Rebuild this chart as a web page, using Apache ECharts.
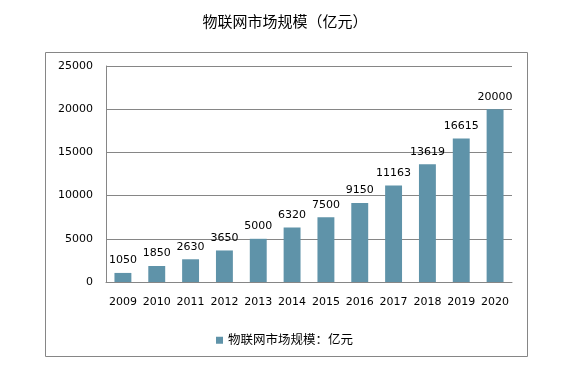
<!DOCTYPE html>
<html><head><meta charset="utf-8">
<script src="https://cdn.jsdelivr.net/npm/echarts@6/dist/echarts.min.js"></script>
<style>html,body{margin:0;padding:0;background:#fff}#c{width:569px;height:373px}</style>
</head><body><div id="c"></div>
<script>
const titleText = '物联网市场规模（亿元）';
const seriesName = '物联网市场规模：亿元';
const years = ['2009','2010','2011','2012','2013','2014','2015','2016','2017','2018','2019','2020'];
const values = [1050,1850,2630,3650,5000,6320,7500,9150,11163,13619,16615,20000];
const yMin = 0, yMax = 25000, yStep = 5000;

const font = '"DejaVu Sans", "Noto Sans CJK SC", sans-serif';
const chart = echarts.init(document.getElementById('c'), null, {renderer:'canvas'});
chart.setOption({
  animation:false,
  backgroundColor:'#fff',
  title:{text:titleText,left:280,textAlign:'center',top:11,textStyle:{fontFamily:font,fontSize:15,fontWeight:'normal',color:'#000'}},
  graphic:[{type:'rect',shape:{x:45.5,y:52.5,width:482,height:304},style:{fill:'none',stroke:'#868686',lineWidth:1},silent:true}],
  legend:{data:[seriesName],left:'center',top:329,itemWidth:7,itemHeight:7,icon:'rect',itemGap:5,
    textStyle:{fontFamily:font,fontSize:12.5,color:'#000'}},
  grid:{left:106,right:57,top:66,bottom:91,containLabel:false},
  xAxis:{type:'category',data:years,axisLine:{lineStyle:{color:'#868686'}},axisTick:{show:false},
    axisLabel:{interval:0,fontFamily:font,fontSize:11,color:'#000',margin:15}},
  yAxis:{type:'value',min:yMin,max:yMax,interval:yStep,axisLine:{show:true,lineStyle:{color:'#868686'}},axisTick:{show:false},
    splitLine:{lineStyle:{color:'#868686'}},axisLabel:{formatter:v=>String(v),fontFamily:font,fontSize:11,color:'#000',margin:13}},
  series:[{name:seriesName,type:'bar',data:values,barWidth:'50%',itemStyle:{color:'#5f93a9'},
    label:{show:true,position:'top',distance:7,formatter:p=>String(p.value),fontFamily:font,fontSize:11,color:'#000'}}]
});
</script></body></html>
